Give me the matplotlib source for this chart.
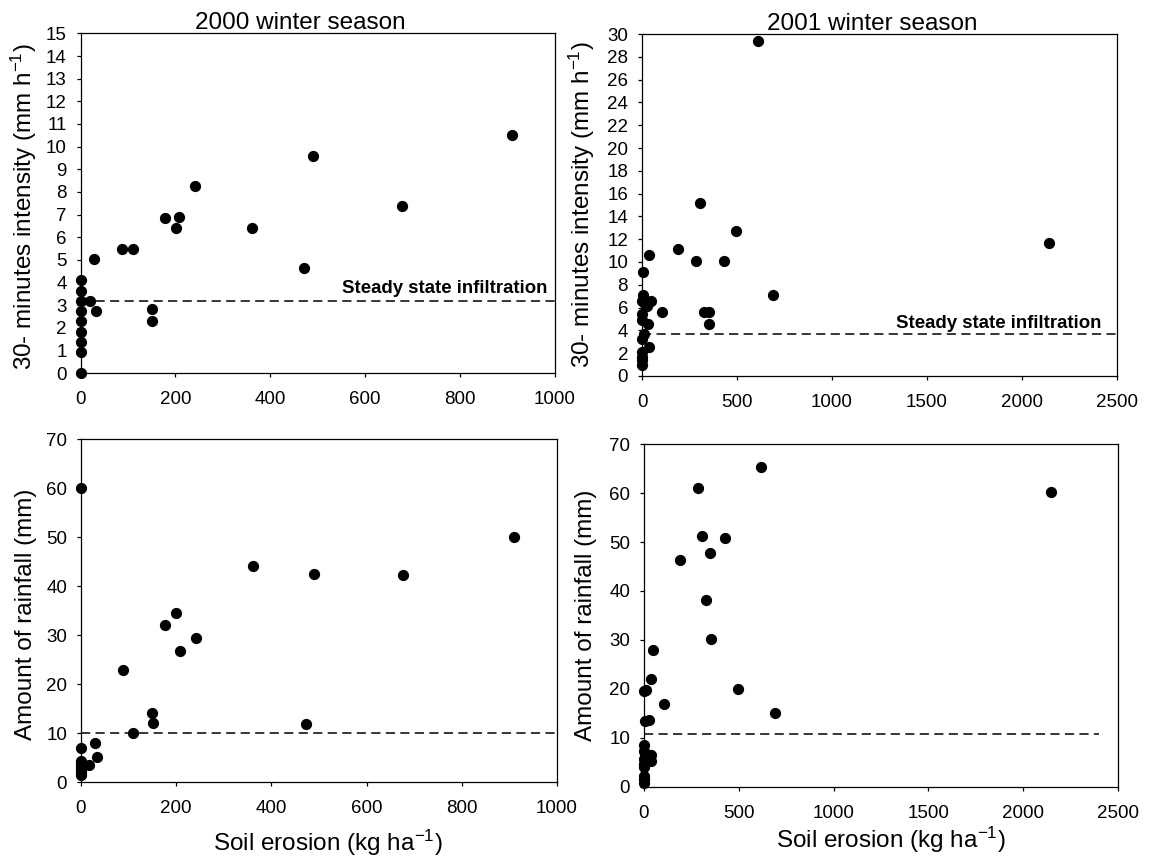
import matplotlib.pyplot as plt

plt.rcParams["font.family"] = ["Liberation Sans", "DejaVu Sans"]
plt.rcParams["mathtext.fontset"] = "custom"
plt.rcParams["mathtext.rm"] = "Liberation Sans"
plt.rcParams["mathtext.it"] = "Liberation Sans:italic"
plt.rcParams["mathtext.bf"] = "Liberation Sans:bold"

# 2000 winter season - 30 minutes intensity vs soil erosion
erosion_2000_a = [0, 0, 0, 0, 0, 0, 0, 0, 0,
                  19, 29, 33, 87, 110, 150, 150, 177, 201, 208,
                  241, 361, 472, 490, 677, 910]
intensity_2000 = [0, 0.94, 1.38, 1.82, 2.29, 2.75, 3.19, 3.64, 4.1,
                  3.19, 5.04, 2.75, 5.49, 5.49, 2.82, 2.29, 6.85, 6.4, 6.88,
                  8.25, 6.42, 4.64, 9.6, 7.36, 10.5]

# 2000 winter season - amount of rainfall vs soil erosion
erosion_2000_b = [0, 0, 0, 0, 0, 0, 0, 0, 0,
                  17, 30, 34, 89, 110, 149, 152, 177, 200, 208,
                  241, 361, 472, 490, 676, 910]
rainfall_2000 = [60.0, 6.9, 1.5, 2.0, 2.5, 3.0, 3.5, 3.9, 4.3,
                 3.6, 8.0, 5.1, 23.0, 10.0, 14.2, 12.0, 32.2, 34.5, 26.8,
                 29.5, 44.2, 11.8, 42.5, 42.3, 50.1]

# 2001 winter season - 30 minutes intensity vs soil erosion
erosion_2001_a = [612, 304, 493, 2142, 187, 37, 285, 429, 6, 688,
                  4, 2, 47, 27, 105, 325, 351, 353, 29, 0,
                  0, 8, 2, 35, 0, 0, 0, 0, 15]
intensity_2001 = [29.4, 15.2, 12.7, 11.7, 11.1, 10.6, 10.1, 10.1, 9.1, 7.1,
                  7.1, 6.6, 6.6, 6.1, 5.6, 5.6, 5.6, 4.6, 4.6, 5.4,
                  4.9, 3.7, 3.2, 2.55, 2.1, 1.7, 1.4, 1.0, 6.3]

# 2001 winter season - amount of rainfall vs soil erosion
erosion_2001_b = [617, 285, 2144, 305, 428, 346, 188, 328, 354, 47,
                  39, 10, 0, 496, 105, 689, 29, 4, 0, 0,
                  3, 35, 0, 38, 0, 0, 0, 0, 0]
rainfall_2001 = [65.4, 61.0, 60.2, 51.2, 50.8, 47.7, 46.4, 38.2, 30.3, 27.9,
                 22.1, 19.8, 19.5, 20.1, 16.9, 15.0, 13.7, 13.4, 8.5, 7.4,
                 6.7, 6.6, 5.7, 5.3, 4.6, 4.0, 2.3, 1.6, 0.9]

# reference lines (steady state infiltration)
steady_2000_int = 3.2
steady_2001_int = 3.65
steady_2000_rain = 10.0
steady_2001_rain = 10.8

int_label = "30- minutes intensity (mm h$^{-1}$)"
rain_label = "Amount of rainfall (mm)"
ero_label = "Soil erosion (kg ha$^{-1}$)"

fig = plt.figure(figsize=(11.52, 8.57), dpi=100)

ax1 = fig.add_axes([0.0700, 0.5644, 0.4115, 0.3967])
ax2 = fig.add_axes([0.5573, 0.5613, 0.4123, 0.3990])
ax3 = fig.add_axes([0.0703, 0.0872, 0.4132, 0.4002])
ax4 = fig.add_axes([0.5590, 0.0817, 0.4115, 0.4002])


def style(ax):
    for sp in ax.spines.values():
        sp.set_linewidth(0.9)
    ax.tick_params(axis="both", direction="out", length=3, width=0.9,
                   labelsize=13.5)
    ax.tick_params(axis="y", pad=7)
    ax.tick_params(axis="x", pad=10)


dash = (0, (6, 3.5))
dot_size = 50

# top left
ax1.scatter(erosion_2000_a, intensity_2000, s=dot_size, color="black", zorder=3, clip_on=False)
ax1.plot([0, 1000], [steady_2000_int, steady_2000_int], color="black", lw=1.1, linestyle=dash)
ax1.text(985, 3.55, "Steady state infiltration", ha="right", va="baseline",
         fontsize=13.4, fontweight="bold")
ax1.set_xlim(0, 1000)
ax1.set_ylim(0, 15)
ax1.set_xticks(range(0, 1001, 200))
ax1.set_yticks(range(0, 16))
ax1.set_ylabel(int_label, fontsize=17.5)
ax1.yaxis.set_label_coords(-0.088, 0.49)
ax1.text(0.463, 1.012, "2000 winter season", transform=ax1.transAxes,
         ha="center", va="baseline", fontsize=17.5)
style(ax1)

# top right
ax2.scatter(erosion_2001_a, intensity_2001, s=dot_size, color="black", zorder=3, clip_on=False)
ax2.plot([0, 2500], [steady_2001_int, steady_2001_int], color="black", lw=1.1, linestyle=dash)
ax2.text(2418, 4.2, "Steady state infiltration", ha="right", va="baseline",
         fontsize=13.4, fontweight="bold")
ax2.set_xlim(0, 2500)
ax2.set_ylim(0, 30)
ax2.set_xticks(range(0, 2501, 500))
ax2.set_yticks(range(0, 31, 2))
ax2.set_ylabel(int_label, fontsize=17.5)
ax2.yaxis.set_label_coords(-0.095, 0.5)
ax2.text(0.484, 1.012, "2001 winter season", transform=ax2.transAxes,
         ha="center", va="baseline", fontsize=17.5)
style(ax2)

# bottom left
ax3.scatter(erosion_2000_b, rainfall_2000, s=dot_size, color="black", zorder=3, clip_on=False)
ax3.plot([0, 1000], [steady_2000_rain, steady_2000_rain], color="black", lw=1.1, linestyle=dash)
ax3.set_xlim(0, 1000)
ax3.set_ylim(0, 70)
ax3.set_xticks(range(0, 1001, 200))
ax3.set_yticks(range(0, 71, 10))
ax3.set_ylabel(rain_label, fontsize=17.5)
ax3.yaxis.set_label_coords(-0.092, 0.49)
ax3.set_xlabel(ero_label, fontsize=17.5)
ax3.xaxis.set_label_coords(0.519, -0.132)
style(ax3)

# bottom right
ax4.scatter(erosion_2001_b, rainfall_2001, s=dot_size, color="black", zorder=3, clip_on=False)
ax4.plot([0, 2400], [steady_2001_rain, steady_2001_rain], color="black", lw=1.1, linestyle=dash)
ax4.set_xlim(0, 2500)
ax4.set_ylim(0, 70)
ax4.set_xticks(range(0, 2501, 500))
ax4.set_yticks(range(0, 71, 10))
ax4.set_ylabel(rain_label, fontsize=17.5)
ax4.yaxis.set_label_coords(-0.099, 0.5)
ax4.set_xlabel(ero_label, fontsize=17.5)
ax4.xaxis.set_label_coords(0.521, -0.111)
style(ax4)

fig.savefig("out.png", dpi=100)
plt.close(fig)
